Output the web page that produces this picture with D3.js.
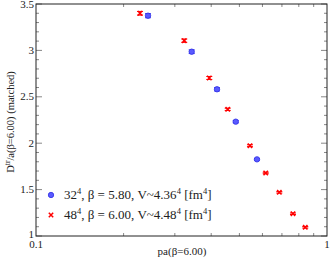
<!DOCTYPE html>
<html><head><meta charset="utf-8">
<script src="https://cdn.jsdelivr.net/npm/d3@7"></script>
<style>body{margin:0;background:#fff}svg{display:block}</style>
</head><body>
<script>
// data
const blueX = [0.2426, 0.3428, 0.4188, 0.4858, 0.5746];
const blueY = [3.374, 2.986, 2.581, 2.232, 1.826];
const blueErr = [0.022, 0.02, 0.018, 0.012, 0.01];
const redX = [0.2277, 0.3232, 0.3940, 0.4558, 0.5436, 0.6157, 0.6857, 0.7640, 0.8420];
const redY = [3.40, 3.105, 2.703, 2.365, 1.973, 1.679, 1.471, 1.240, 1.094];
const redErr = [0.02, 0.018, 0.016, 0.012, 0.01, 0.008, 0.008, 0.008, 0.008];
const yTicks = [1, 1.5, 2, 2.5, 3, 3.5];
const xTickLabels = [0.1, 1];
const xMinor = [0.2,0.3,0.4,0.5,0.6,0.7,0.8,0.9];
const legendLabels = ["32", "48"];

const FONT = "'Liberation Serif', 'Times New Roman', 'DejaVu Serif', serif";
const W = 332, H = 263;
const m = {l:36, r:5, t:4, b:27};
const svg = d3.select("body").append("svg").attr("width", W).attr("height", H)
  .style("font-family", FONT);
const x = d3.scaleLog().domain([0.1, 1]).range([m.l, W - m.r]);
const y = d3.scaleLinear().domain([1, 3.5]).range([H - m.b, m.t]);
const x0 = m.l, x1 = W - m.r, y0 = H - m.b, y1 = m.t;
const tickCol = "#888";
const txtCol = "#222";

const g = svg.append("g");
const yMinor = d3.range(1.1, 3.5, 0.1).filter(v => Math.abs(v*2 - Math.round(v*2)) > 0.01);
yMinor.forEach(v => {
  g.append("line").attr("x1", x0).attr("x2", x0+3).attr("y1", y(v)).attr("y2", y(v)).attr("stroke", tickCol);
  g.append("line").attr("x1", x1).attr("x2", x1-3).attr("y1", y(v)).attr("y2", y(v)).attr("stroke", tickCol);
});
yTicks.forEach(v => {
  g.append("line").attr("x1", x0).attr("x2", x0+6).attr("y1", y(v)).attr("y2", y(v)).attr("stroke", tickCol);
  g.append("line").attr("x1", x1).attr("x2", x1-6).attr("y1", y(v)).attr("y2", y(v)).attr("stroke", tickCol);
  g.append("text").attr("x", x0-2).attr("y", y(v)+3.5 - (v===1?1.5:0) + (v===3.5?0.5:0)).attr("text-anchor","end")
    .attr("font-size", 11).attr("fill", txtCol).text(v);
});
xMinor.forEach(v => {
  g.append("line").attr("x1", x(v)).attr("x2", x(v)).attr("y1", y0).attr("y2", y0-3).attr("stroke", tickCol);
  g.append("line").attr("x1", x(v)).attr("x2", x(v)).attr("y1", y1).attr("y2", y1+3).attr("stroke", tickCol);
});
xTickLabels.forEach(v => {
  g.append("text").attr("x", x(v)).attr("y", y0+11.5).attr("text-anchor","middle")
    .attr("font-size", 11).attr("fill", txtCol).text(v);
});
g.append("rect").attr("x", x0).attr("y", y1).attr("width", x1-x0).attr("height", y0-y1)
  .attr("fill","none").attr("stroke","#222").attr("stroke-width",1);

// axis titles
svg.append("text").attr("x", 182).attr("y", 255).attr("text-anchor","middle").attr("font-size", 11)
  .attr("fill", txtCol).text("pa(β=6.00)");
const yl = svg.append("text").attr("transform","translate(14,122) rotate(-90)").attr("text-anchor","middle")
  .attr("font-size",10.5).attr("fill", txtCol);
yl.append("tspan").text("D");
yl.append("tspan").attr("dy",-4).attr("font-size",7.5).text("tr");
yl.append("tspan").attr("dy",4).text("/a(β=6.00)  (matched)");

function errbars(xs, ys, es, col) {
  xs.forEach((xv, i) => {
    const cx = x(xv), ya = y(ys[i]+es[i]), yb = y(ys[i]-es[i]);
    g.append("line").attr("x1",cx).attr("x2",cx).attr("y1",ya).attr("y2",yb).attr("stroke",col);
    g.append("line").attr("x1",cx-3).attr("x2",cx+3).attr("y1",ya).attr("y2",ya).attr("stroke",col);
    g.append("line").attr("x1",cx-3).attr("x2",cx+3).attr("y1",yb).attr("y2",yb).attr("stroke",col);
  });
}
errbars(blueX, blueY, blueErr, "#3c3cf0");
errbars(redX, redY, redErr, "#ff0000");
blueX.forEach((xv,i) => {
  g.append("circle").attr("cx", x(xv)).attr("cy", y(blueY[i])).attr("r", 2.7)
    .attr("fill","#5a5aff").attr("stroke","#2e2ee6").attr("stroke-width",0.8);
});
function cross(sel, cx, cy, s, col){
  sel.append("path").attr("d",`M${cx-s},${cy-s}L${cx+s},${cy+s}M${cx-s},${cy+s}L${cx+s},${cy-s}`)
    .attr("stroke",col).attr("stroke-width",1.5);
}
redX.forEach((xv,i) => cross(g, x(xv), y(redY[i]), 2.2, "#ff0000"));

// legend
const lg = svg.append("g");
lg.append("circle").attr("cx",51).attr("cy",195).attr("r",2.7).attr("fill","#5a5aff").attr("stroke","#2e2ee6").attr("stroke-width",0.8);
cross(lg, 51, 215, 2.2, "#ff0000");
const leg = [
  {n: legendLabels[0], rest: ", β = 5.80, V~4.36"},
  {n: legendLabels[1], rest: ", β = 6.00, V~4.48"}
];
leg.forEach((d, i) => {
  const t = lg.append("text").attr("x", 64).attr("y", 199 + i*20).attr("font-size", 13).attr("fill", txtCol);
  t.append("tspan").text(d.n);
  t.append("tspan").attr("dy",-5).attr("font-size",8.5).text("4");
  t.append("tspan").attr("dy",5).text(d.rest);
  t.append("tspan").attr("dy",-5).attr("font-size",8.5).text("4");
  t.append("tspan").attr("dy",5).text(" [fm");
  t.append("tspan").attr("dy",-5).attr("font-size",8.5).text("4");
  t.append("tspan").attr("dy",5).text("]");
});
</script>
</body></html>
